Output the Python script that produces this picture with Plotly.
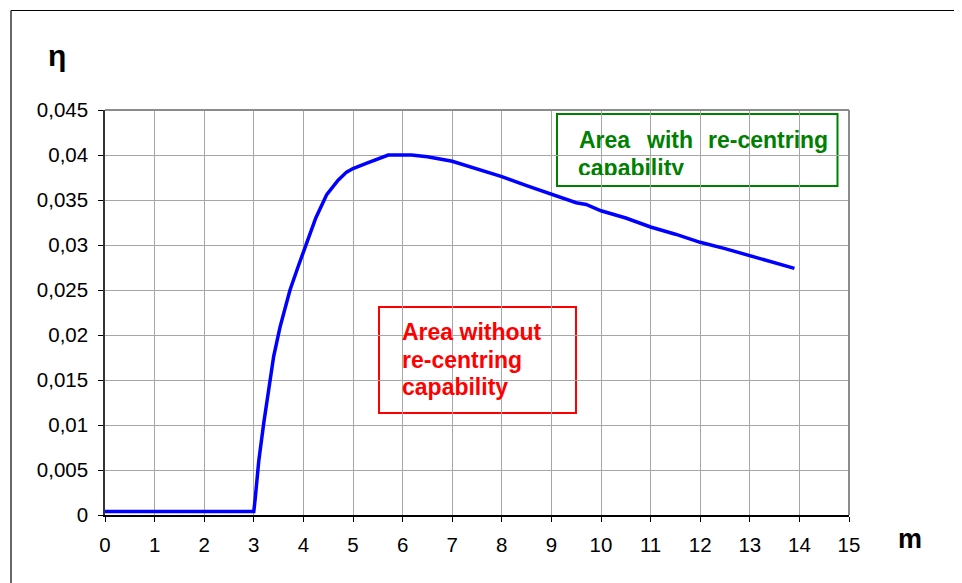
import plotly.graph_objects as go

# Data
m_values = [0, 3.0, 3.03, 3.1, 3.2, 3.33, 3.4, 3.53, 3.73, 3.9, 4.07, 4.25, 4.47, 4.7,
            4.87, 5.0, 5.28, 5.71, 6.18, 6.5, 7.0, 7.5, 8.0, 8.5, 9.0, 9.5, 9.7, 9.85,
            10.0, 10.5, 11.0, 11.5, 12.0, 12.5, 13.0, 13.5, 13.9]
eta_values = [0.0004, 0.0004, 0.0019, 0.006, 0.0102, 0.015, 0.0176, 0.0209, 0.025, 0.0277,
              0.0304, 0.033, 0.0356, 0.0372, 0.0381, 0.0385, 0.0391, 0.0400, 0.0400, 0.0398,
              0.0393, 0.0385, 0.0376, 0.0366, 0.0356, 0.0347, 0.0345, 0.0341, 0.0338, 0.0330,
              0.0320, 0.0312, 0.0303, 0.0296, 0.0288, 0.0280, 0.0274]

x_ticks = list(range(0, 16))
y_ticks = [0, 0.005, 0.01, 0.015, 0.02, 0.025, 0.03, 0.035, 0.04, 0.045]
y_tick_labels = ["0", "0,005", "0,01", "0,015", "0,02", "0,025", "0,03", "0,035", "0,04", "0,045"]

OFF = 8  # page body margin
W, H = 962 - OFF, 583 - OFF
L, R, T, B = 105 - OFF, 849 - OFF, 110 - OFF, 515 - OFF


def px(x):
    return (x - OFF - L) / (R - L)


def py(y):
    return (B - (y - OFF)) / (B - T)


FONT = "Liberation Sans, Arial, sans-serif"

fig = go.Figure()
fig.add_trace(go.Scatter(x=m_values, y=eta_values, mode="lines",
                         line=dict(color="#0000FF", width=3.5), showlegend=False,
                         hoverinfo="skip"))

fig.update_layout(
    width=W, height=H,
    margin=dict(l=L, r=W - R, t=T, b=H - B),
    paper_bgcolor="white", plot_bgcolor="white",
    font=dict(family=FONT, color="black", size=20),
    showlegend=False,
)
fig.update_xaxes(range=[0, 15], tickvals=x_ticks, ticktext=[str(v) for v in x_ticks],
                 showgrid=True, gridcolor="#A6A6A6", gridwidth=1,
                 showline=True, linecolor="black", linewidth=1.5,
                 ticks="outside", ticklen=5, tickcolor="black", tickwidth=1,
                 ticklabelstandoff=6, zeroline=False, tickfont=dict(size=20.5))
fig.update_yaxes(range=[0, 0.045], tickvals=y_ticks, ticktext=y_tick_labels,
                 showgrid=True, gridcolor="#A6A6A6", gridwidth=1,
                 showline=True, linecolor="#333333", linewidth=1.5,
                 ticks="outside", ticklen=5, tickcolor="black", tickwidth=1,
                 ticklabelstandoff=6, zeroline=False, tickfont=dict(size=20.5))

shapes = [
    # plot frame top/right (gray)
    dict(type="line", xref="paper", yref="paper", x0=0, x1=1, y0=1, y1=1,
         line=dict(color="#8C8C8C", width=2)),
    dict(type="line", xref="paper", yref="paper", x0=1, x1=1, y0=0, y1=1,
         line=dict(color="#8C8C8C", width=2)),
    # outer frame
    dict(type="line", xref="paper", yref="paper", x0=px(11), x1=px(975), y0=py(10.5), y1=py(10.5),
         line=dict(color="black", width=1.2)),
    dict(type="line", xref="paper", yref="paper", x0=px(11), x1=px(11), y0=py(10.5), y1=py(600),
         line=dict(color="black", width=1.2)),
    # annotation boxes
    dict(type="rect", xref="paper", yref="paper", x0=px(379), x1=px(576), y0=py(413), y1=py(307),
         line=dict(color="#FF0000", width=2), fillcolor="white", layer="between"),
    dict(type="rect", xref="paper", yref="paper", x0=px(557), x1=px(837.5), y0=py(186), y1=py(114),
         line=dict(color="#008000", width=2), fillcolor="white", layer="between"),
]
fig.update_layout(shapes=shapes)

ann = []


def add_text(text, x, y, color, size, xanchor="left", **kw):
    d = dict(text=text, xref="paper", yref="paper", x=px(x), y=py(y),
             xanchor=xanchor, yanchor="middle", showarrow=False,
             font=dict(family=FONT, size=size, color=color))
    d.update(kw)
    ann.append(d)


red = "#FF0000"
green = "#008000"
add_text("<b>Area without</b>", 400, 332, red, 23)
add_text("<b>re-centring</b>", 400, 360, red, 23)
add_text("<b>capability</b>", 400, 387, red, 23)
add_text("<b>Area</b>", 577, 140, green, 23)
add_text("<b>with</b>", 644, 140, green, 23)
add_text("<b>re-centring</b>", 706, 140, green, 23)
add_text("<b>capability</b>", 577, 154, green, 23, yanchor="top", valign="top",
         height=20, borderpad=0)
add_text("<b>η</b>", 57, 55, "black", 30, xanchor="center")
add_text("<b>m</b>", 910, 539, "black", 27, xanchor="center")
fig.update_layout(annotations=ann)

fig.write_html("out.html")
